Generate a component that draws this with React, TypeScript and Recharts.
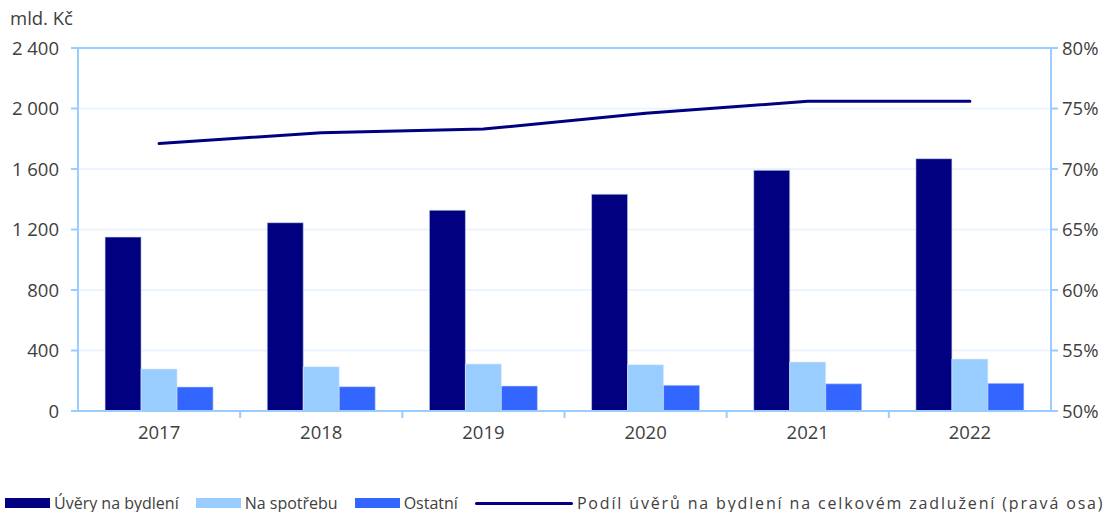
import {
  ComposedChart,
  Bar,
  Line,
  XAxis,
  YAxis,
  CartesianGrid,
  Legend,
  ReferenceLine,
} from "recharts";

const years = ["2017", "2018", "2019", "2020", "2021", "2022"];
const housing = [1150, 1245, 1327, 1433, 1591, 1668];
const consumer = [278, 293, 311, 306, 324, 344];
const other = [159, 161, 165, 170, 180, 183];
const housingShare = [72.1, 73.0, 73.3, 74.6, 75.6, 75.6];

const leftTicks = [0, 400, 800, 1200, 1600, 2000, 2400];
const rightTicks = [50, 55, 60, 65, 70, 75, 80];

const data = years.map((year, i) => ({
  year,
  housing: housing[i],
  consumer: consumer[i],
  other: other[i],
  share: housingShare[i],
}));

const FONT = "'Open Sans', sans-serif";
const TEXT = "#404040";
const AXIS = "#99ccff";
const TICK_FONT = { fill: TEXT, fontSize: 18.5, fontFamily: FONT };
const X_TICK_SIZE = 7;
const X_TICK_MARGIN = 8;

const fmtThousands = (v: number) =>
  String(v).replace(/\B(?=(\d{3})+(?!\d))/g, " ");

function UnitLabel({ viewBox }: any) {
  if (!viewBox) return null;
  return (
    <text x={viewBox.x + 10} y={viewBox.y - 23} fill={TEXT} fontSize={18.5} fontFamily={FONT}>
      mld. Kč
    </text>
  );
}

// year label centred in the band, small tick mark on the band's left edge
function YearTick({ x, y, payload }: any) {
  const axisY = y - X_TICK_SIZE - X_TICK_MARGIN;
  const edge = payload && payload.offset ? x - payload.offset : null;
  return (
    <g>
      {edge !== null && payload.index > 0 && (
        <line x1={edge} x2={edge} y1={axisY} y2={axisY + X_TICK_SIZE} stroke={AXIS} strokeWidth={2} />
      )}
      <text x={x} y={y} dy="0.71em" textAnchor="middle" {...TICK_FONT}>
        {payload.value}
      </text>
    </g>
  );
}

function ChartLegend() {
  const item = (swatch: any, label: string, gap: number, spacing = 0) => (
    <div style={{ display: "flex", alignItems: "center", marginRight: gap }}>
      {swatch}
      <span style={{ marginLeft: 4, letterSpacing: spacing }}>{label}</span>
    </div>
  );
  const box = (c: string) => (
    <div style={{ width: 45, height: 10, background: c }} />
  );
  return (
    <div
      style={{
        display: "flex",
        alignItems: "center",
        paddingTop: 20,
        paddingLeft: 5,
        fontFamily: FONT,
        fontSize: 16,
        color: TEXT,
        whiteSpace: "nowrap",
      }}
    >
      {item(box("#000080"), "Úvěry na bydlení", 17)}
      {item(box("#99ccff"), "Na spotřebu", 17)}
      {item(box("#3366ff"), "Ostatní", 17)}
      {item(
        <div style={{ width: 98, height: 3, background: "#000080", borderRadius: 2 }} />,
        "Podíl úvěrů na bydlení na celkovém zadlužení (pravá osa)",
        0,
        1.85
      )}
    </div>
  );
}

export default function App() {
  return (
    <div style={{ position: "absolute", left: 0, top: 0, background: "#fff" }}>
      <ComposedChart
        width={1111}
        height={512}
        data={data}
        margin={{ top: 48, right: 0, bottom: 0, left: 0 }}
        barCategoryGap="16.7%"
        barGap={0}
      >
        <CartesianGrid vertical={false} stroke="#e6f2ff" strokeWidth={1.5} yAxisId="left" />
        <XAxis
          dataKey="year"
          height={61}
          axisLine={{ stroke: AXIS, strokeWidth: 2 }}
          tickLine={false}
          tickSize={X_TICK_SIZE}
          tickMargin={X_TICK_MARGIN}
          tick={<YearTick />}
        />
        <YAxis
          yAxisId="left"
          width={78}
          domain={[0, 2400]}
          ticks={leftTicks}
          tickFormatter={fmtThousands}
          axisLine={{ stroke: AXIS, strokeWidth: 2 }}
          tickLine={{ stroke: AXIS, strokeWidth: 2 }}
          tickSize={7}
          tickMargin={12}
          tick={TICK_FONT}
          label={<UnitLabel />}
        />
        <YAxis
          yAxisId="right"
          orientation="right"
          width={60}
          domain={[50, 80]}
          ticks={rightTicks}
          tickFormatter={(v: number) => `${v}%`}
          axisLine={{ stroke: AXIS, strokeWidth: 2 }}
          tickLine={{ stroke: AXIS, strokeWidth: 2 }}
          tickSize={7}
          tickMargin={4}
          tick={TICK_FONT}
        />
        <ReferenceLine yAxisId="left" y={2400} stroke={AXIS} strokeWidth={2} />
        <Legend
          verticalAlign="bottom"
          height={40}
          content={() => <ChartLegend />}
        />
        <Bar yAxisId="left" dataKey="housing" name="Úvěry na bydlení" fill="#000080" stroke="#c8d6ee" strokeWidth={0.6} isAnimationActive={false} />
        <Bar yAxisId="left" dataKey="consumer" name="Na spotřebu" fill="#99ccff" stroke="#e0eeff" strokeWidth={0.6} isAnimationActive={false} />
        <Bar yAxisId="left" dataKey="other" name="Ostatní" fill="#3366ff" stroke="#c8d6ee" strokeWidth={0.6} isAnimationActive={false} />
        <Line
          yAxisId="right"
          dataKey="share"
          name="Podíl úvěrů na bydlení na celkovém zadlužení (pravá osa)"
          stroke="#000080"
          strokeWidth={3}
          strokeLinecap="round"
          dot={false}
          activeDot={false}
          type="linear"
          isAnimationActive={false}
        />
      </ComposedChart>
    </div>
  );
}
